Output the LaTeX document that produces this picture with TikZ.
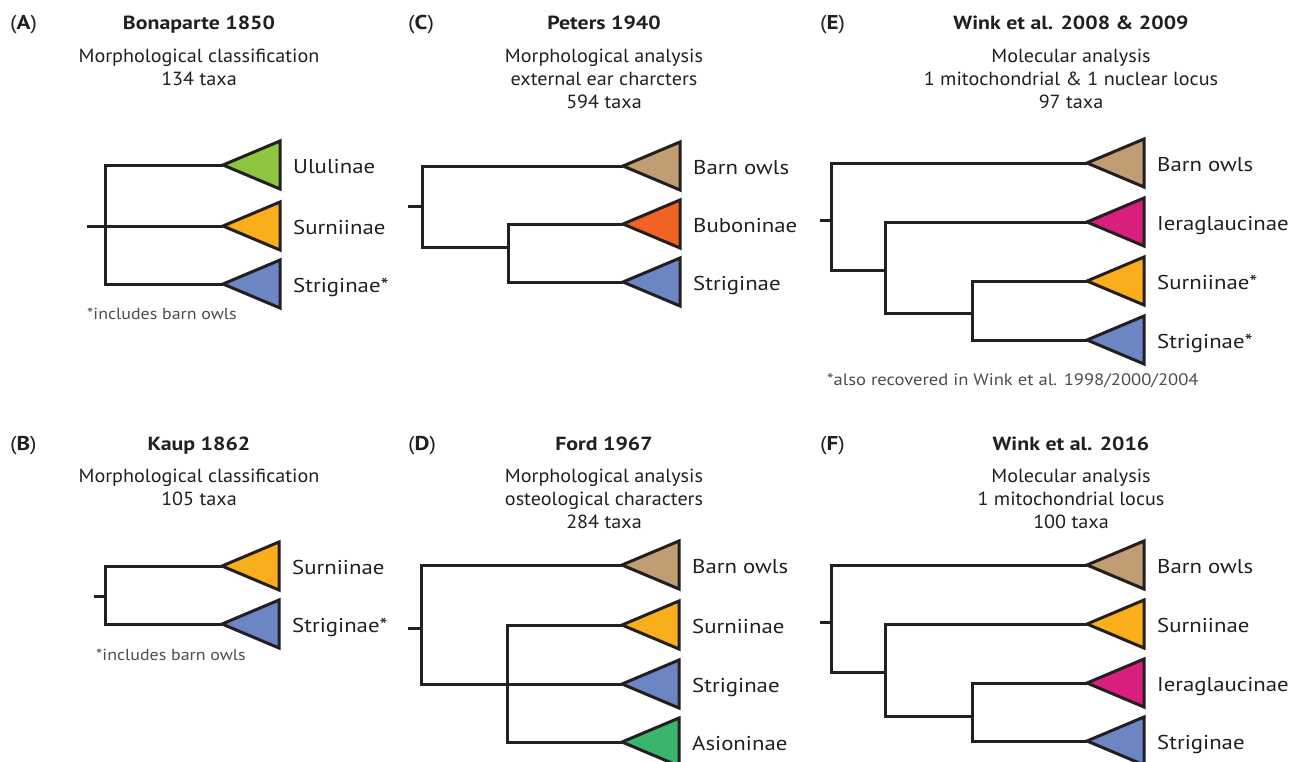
\documentclass[tikz,border=0pt]{standalone}
\usepackage{fontspec}
\setmainfont{PT Sans}
\newfontfamily\labf{PT Sans}[FakeStretch=1.14]
\newfontfamily\ttlf{PT Sans}[FakeStretch=1.15]
\newfontfamily\subf{PT Sans}[FakeStretch=1.06]
\newfontfamily\fnf{PT Sans}[FakeStretch=1.12]
\usetikzlibrary{calc}
\definecolor{ink}{RGB}{35,31,32}
\definecolor{fnote}{RGB}{77,77,77}
\definecolor{cUlu}{RGB}{141,198,63}
\definecolor{cSur}{RGB}{249,175,27}
\definecolor{cStr}{RGB}{107,134,194}
\definecolor{cBarn}{RGB}{192,157,114}
\definecolor{cBub}{RGB}{241,98,37}
\definecolor{cIer}{RGB}{218,30,125}
\definecolor{cAsi}{RGB}{58,181,110}
\newcommand\clade[3]{%
  \draw[tri,fill=#2] (#1) -- ++(57,-24) -- ++(0,48) -- cycle;
  \node[lab] (#1l) at ($(#1)+(70,8)$) {#3};}
\begin{document}
\begin{tikzpicture}[x=1pt,y=-1pt,
  br/.style={line width=3pt,draw=ink,line join=miter},
  tri/.style={line width=3pt,draw=ink,line join=miter},
  lab/.style={anchor=base west,inner sep=0pt,text=ink,font=\labf\fontsize{20}{24}\selectfont},
  plab/.style={anchor=base west,inner sep=0pt,text=ink,font=\ttlf\fontsize{20}{24}\selectfont},
  ttl/.style={anchor=base,inner sep=0pt,text=ink,font=\ttlf\fontsize{19}{23}\selectfont\bfseries},
  sub/.style={anchor=base,inner sep=0pt,text=ink,font=\subf\fontsize{19}{23}\selectfont},
  fn/.style={anchor=base west,inner sep=0pt,text=fnote,font=\fnf\fontsize{16}{19}\selectfont}]
\useasboundingbox (0,0) rectangle (1302,761);
\fill[white] (0,0) rectangle (1302,761);

% ---------- Panel A ----------
\node[plab] (pA) at (10,29) {(\textbf{A})};
\node[ttl] (tA) at (199,29) {Bonaparte 1850};
\node[sub] (sA1) at (199,62) {Morphological classification};
\node[sub] (sA2) at (199,85) {134 taxa};
\coordinate (aU) at (223,165);
\coordinate (aSu) at (223,226);
\coordinate (aSt) at (223,284);
\coordinate (aN) at (105,226);
\coordinate (aR) at (87,226);
\draw[br] (aU) -| (aN) |- (aSt);
\draw[br] (aR) -- (aSu);
\clade{aU}{cUlu}{Ululinae}
\clade{aSu}{cSur}{Surniinae}
\clade{aSt}{cStr}{Striginae*}
\node[fn] (fA) at (87,319) {*includes barn owls};

% ---------- Panel B ----------
\node[plab] (pB) at (10,450) {(\textbf{B})};
\node[ttl] (tB) at (199,450) {Kaup 1862};
\node[sub] (sB1) at (199,482) {Morphological classification};
\node[sub] (sB2) at (199,505) {105 taxa};
\coordinate (bSu) at (222,566);
\coordinate (bSt) at (222,624);
\coordinate (bN) at (105,596);
\coordinate (bR) at (94,596);
\draw[br] (bSu) -| (bN) |- (bSt);
\draw[br] (bR) -- (bN);
\clade{bSu}{cSur}{Surniinae}
\clade{bSt}{cStr}{Striginae*}
\node[fn] (fB) at (96,660) {*includes barn owls};

% ---------- Panel C ----------
\node[plab] (pC) at (408,29) {(\textbf{C})};
\node[ttl] (tC) at (604,29) {Peters 1940};
\node[sub] (sC1) at (604,62) {Morphological analysis};
\node[sub] (sC2) at (604,85) {external ear charcters};
\node[sub] (sC3) at (604,108) {594 taxa};
\coordinate (cB) at (623,166);
\coordinate (cBu) at (623,224);
\coordinate (cS) at (623,282);
\coordinate (cN1) at (422,206);
\coordinate (cN2) at (508,247);
\coordinate (cR) at (408,206);
\draw[br] (cB) -| (cN1) |- (cN2);
\draw[br] (cBu) -| (cN2) |- (cS);
\draw[br] (cR) -- (cN1);
\clade{cB}{cBarn}{Barn owls}
\clade{cBu}{cBub}{Buboninae}
\clade{cS}{cStr}{Striginae}

% ---------- Panel D ----------
\node[plab] (pD) at (408,450) {(\textbf{D})};
\node[ttl] (tD) at (604,450) {Ford 1967};
\node[sub] (sD1) at (604,482) {Morphological analysis};
\node[sub] (sD2) at (604,505) {osteological characters};
\node[sub] (sD3) at (604,528) {284 taxa};
\coordinate (dB) at (622,565);
\coordinate (dSu) at (622,625);
\coordinate (dSt) at (622,684);
\coordinate (dA) at (622,742);
\coordinate (dN1) at (421,628);
\coordinate (dN2) at (507,684);
\coordinate (dR) at (408,628);
\draw[br] (dB) -| (dN1) |- (dSt);
\draw[br] (dSu) -| (dN2) |- (dA);
\draw[br] (dR) -- (dN1);
\clade{dB}{cBarn}{Barn owls}
\clade{dSu}{cSur}{Surniinae}
\clade{dSt}{cStr}{Striginae}
\clade{dA}{cAsi}{Asioninae}

% ---------- Panel E ----------
\node[plab] (pE) at (820,29) {(\textbf{E})};
\node[ttl] (tE) at (1071,29) {Wink et al. 2008 \& 2009};
\node[sub] (sE1) at (1071,62) {Molecular analysis};
\node[sub] (sE2) at (1071,85) {1 mitochondrial \& 1 nuclear locus};
\node[sub] (sE3) at (1071,108) {97 taxa};
\coordinate (eB) at (1087,163);
\coordinate (eI) at (1087,222);
\coordinate (eSu) at (1087,281);
\coordinate (eSt) at (1087,340);
\coordinate (eN1) at (831,220);
\coordinate (eN2) at (885,270);
\coordinate (eN3) at (972,313);
\coordinate (eR) at (820,220);
\draw[br] (eB) -| (eN1) |- (eN2);
\draw[br] (eI) -| (eN2) |- (eN3);
\draw[br] (eSu) -| (eN3) |- (eSt);
\draw[br] (eR) -- (eN1);
\clade{eB}{cBarn}{Barn owls}
\clade{eI}{cIer}{Ieraglaucinae}
\clade{eSu}{cSur}{Surniinae*}
\clade{eSt}{cStr}{Striginae*}
\node[fn,font=\fnf\fontsize{16.6}{19}\selectfont] (fE) at (827,385) {*also recovered in Wink et al. 1998/2000/2004};

% ---------- Panel F ----------
\node[plab] (pF) at (820,450) {(\textbf{F})};
\node[ttl] (tF) at (1071,450) {Wink et al. 2016};
\node[sub] (sF1) at (1071,482) {Molecular analysis};
\node[sub] (sF2) at (1071,505) {1 mitochondrial locus};
\node[sub] (sF3) at (1071,528) {100 taxa};
\coordinate (fB) at (1087,565);
\coordinate (fSu) at (1087,624);
\coordinate (fI) at (1087,683);
\coordinate (fSt) at (1087,741);
\coordinate (fN1) at (831,622);
\coordinate (fN2) at (885,672);
\coordinate (fN3) at (972,716);
\coordinate (fR) at (820,622);
\draw[br] (fB) -| (fN1) |- (fN2);
\draw[br] (fSu) -| (fN2) |- (fN3);
\draw[br] (fI) -| (fN3) |- (fSt);
\draw[br] (fR) -- (fN1);
\clade{fB}{cBarn}{Barn owls}
\clade{fSu}{cSur}{Surniinae}
\clade{fI}{cIer}{Ieraglaucinae}
\clade{fSt}{cStr}{Striginae}
\end{tikzpicture}
\end{document}
